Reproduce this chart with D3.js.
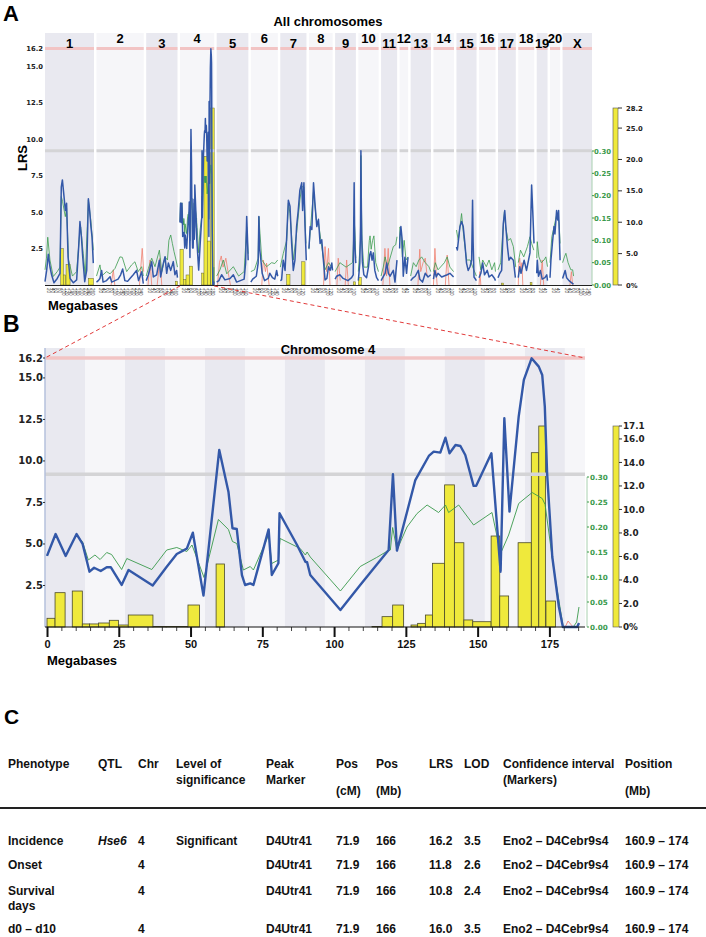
<!DOCTYPE html>
<html>
<head>
<meta charset="utf-8">
<script src="https://cdn.jsdelivr.net/npm/d3@7"></script>
<style>
body { margin: 0; background: #fff; }
svg { font-family: "Liberation Sans", Arial, sans-serif; }
.num { font-family: "DejaVu Sans", Verdana, sans-serif; font-weight: bold; }
</style>
</head>
<body>
<svg id="fig" width="706" height="937"></svg>
<script>
// ---- data ----
var chrNames = ["1","2","3","4","5","6","7","8","9","10","11","12","13","14","15","16","17","18","19","20","X"];
var chrLengths = [267.9,258.2,171.1,187.1,173.1,147.6,143.0,129.6,113.4,110.7,87.8,46.8,111.2,112.2,109.8,90.2,97.3,87.3,59.2,55.3,160.7];

// chromosome 4 scan (Mb, LRS)
var chr4LRS = [[0,4.28],[3.0,5.6],[6.5,4.28],[10.3,5.6],[12.4,5.0],[14.8,3.33],[16.4,3.57],[18.7,3.37],[20.8,3.6],[22.2,3.6],
  [26.0,2.53],[28.4,3.43],[36.8,2.5],[41.7,3.63],[45.2,4.4],[48.7,4.72],[50.8,5.68],[54.5,1.89],[60.0,10.66],[63.2,8.15],
  [64.6,5.95],[66.1,5.9],[67.9,3.13],[69.0,2.53],[70.8,2.63],[71.9,2.53],[77.2,5.88],[78.3,3.13],[80.6,3.84],[81.0,6.85],
  [87.1,4.94],[90.0,3.93],[90.6,3.9],[91.7,3.13],[102.2,1.02],[109.1,2.53],[119.0,4.64],[120.5,9.2],[121.9,4.6],[128.3,8.85],
  [133.0,10.3],[134.7,10.56],[137.0,10.5],[138.8,11.4],[140.2,10.46],[142.3,10.96],[144.0,10.9],[145.7,10.36],[148.6,8.5],[149.5,8.5],
  [154.8,10.46],[158.0,3.33],[159.3,12.57],[161.1,6.95],[164.3,12.67],[166.1,14.88],[168.8,16.18],[171.3,15.68],[172.5,15.18],[173.4,13.27],
  [174.2,9.26],[176.0,4.23],[178.3,1.22],[179.7,0],[184.7,0],[185.3,0.24]];
// chromosome 4 additive effect (Mb, value)
var chr4Add = [[0,0.142],[3.0,0.184],[6.5,0.144],[10.3,0.184],[12.4,0.17],[14.4,0.134],[16.7,0.144],[18.5,0.135],[20.8,0.149],[22.5,0.145],
  [26.0,0.115],[27.8,0.137],[36.5,0.115],[41.7,0.154],[45.2,0.159],[48.7,0.151],[50.5,0.164],[54.7,0.099],[59.7,0.215],[63.2,0.195],
  [64.6,0.171],[66.1,0.167],[68.4,0.114],[70.8,0.121],[71.9,0.114],[77.2,0.184],[78.3,0.127],[80.6,0.134],[81.2,0.177],[88.2,0.157],
  [90.0,0.144],[90.6,0.15],[91.7,0.14],[102.2,0.072],[109.1,0.121],[114.8,0.139],[118.3,0.151],[119.6,0.154],[120.4,0.199],[121.9,0.154],
  [125.4,0.2],[128.9,0.227],[132.4,0.244],[136.4,0.229],[138.8,0.244],[139.9,0.229],[143.4,0.244],[148.6,0.204],[155.0,0.229],[158.0,0.147],
  [160.8,0.184],[164.3,0.247],[169.0,0.269],[172.5,0.257],[173.5,0.245],[176.5,0.117],[179.8,0],[183.3,0],[184.5,0.01],[185.3,0.04]];
var chr4Neg = [[180.5,0],[181.5,0.012],[182.5,0.005],[183.3,0]];
// chromosome 4 bootstrap bins (start Mb, end Mb, %)
var chr4Boot = [[0,2.8,0.74],[2.8,6.3,2.92],[8.8,12.3,3.06],[12.3,14.8,0.26],[14.8,17.9,0.26],[17.9,21.7,0.34],[21.7,24.9,0.57],
  [24.9,28.3,0.17],[28.3,36.9,1.02],[36.9,41.5,0.05],[41.5,49.1,0.05],[49.1,53.1,1.87],[58.9,61.8,5.36],[113.2,116.7,0.05],
  [116.7,120.4,0.88],[120.4,124.2,1.87],[126.8,129.1,0.17],[129.1,131.8,0.31],[131.8,134.3,1.02],[134.3,138.5,5.42],
  [138.5,141.9,12.09],[141.9,145.2,7.17],[145.2,148.3,0.6],[148.3,154.7,0.45],[154.7,157.7,7.74],[157.7,160.8,2.64],
  [164.1,168.7,7.17],[168.7,171.3,14.83],[171.3,173.6,17.1],[173.8,177.1,2.21]];

// genome scan, one list per chromosome (Mb, LRS)
var lrsGenome = [
  [[0,0.23],[9,1.0],[18,2.1],[27,1.25],[36,0.7],[49,0.15],[67,0.45],[82,0.8],[89,6.7],[95,7.2],[104,6.05],[111,5.1],[118,5.6],[126,1.9],[137,0.45],[155,0.15],[173,0.35],[184,2.6],[191,4.35],[199,3.3],[206,1.95],[217,0.23],[228,1.0],[237,5.9],[244,5.1],[251,4.0],[257,3.3],[264,1.5]],
  [[0,0.2],[10,0.3],[19,0.45],[28,1.0],[36,0.2],[55,0.3],[74,0.57],[83,0.2],[101,0.3],[118,0.4],[132,0.7],[143,1.1],[155,0.3],[170,0.25],[183,0.45],[201,0.7],[219,1.0],[230,0.3],[247,0.9],[256,0.1]],
  [[0,0.3],[12,0.7],[30,1.6],[39,0.55],[57,0.7],[72,1.7],[79,0.55],[94,1.5],[103,1.94],[112,0.8],[121,1.5],[134,1.0],[148,1.6],[157,0.7],[166,1.0],[171,0.5]],
  null,
  [[0,0.2],[12,0.3],[27,0.7],[45,0.35],[73,0.45],[91,0.7],[109,0.2],[150,0.4],[158,1.5],[164,4.7],[168,3.3],[172,1.7]],
  [[0,0.2],[10,0.4],[30,0.6],[40,1.5],[44,4.7],[48,2.5],[55,1.7],[62,0.8],[75,0.3],[95,0.45],[104,0.8],[118,0.5],[131,0.4],[141,1.0],[147,0.6]],
  [[0,0.3],[7,0.35],[16,1.7],[26,1.0],[35,3.3],[44,5.8],[53,5.4],[62,2.85],[71,1.0],[80,1.7],[89,4.0],[98,5.1],[107,6.5],[117,7.0],[122,5.1],[129,7.0],[135,4.0],[142,1.7]],
  [[0,2.5],[7,4.0],[16,3.8],[25,7.0],[34,5.4],[43,4.0],[52,4.5],[61,2.85],[70,3.1],[79,1.7],[88,0.35],[98,0.45],[107,1.25],[116,1.0],[125,1.5],[129,1.0]],
  [[0,0.4],[8,0.6],[26,0.7],[44,0.45],[70,0.3],[90,0.5],[99,0.7],[104,7.0],[106,4.0],[108,2.6],[113,1.5]],
  [[0,0.3],[8,1.5],[12,4],[14,9.2],[16,6],[18,3.5],[22,1.6],[30,0.7],[45,0.5],[55,1.2],[62,2.05],[68,2.3],[75,1.7],[82,2.2],[90,1.0],[100,0.5],[110,0.3]],
  [[0,0.3],[12,0.57],[22,0.8],[31,1.5],[40,0.8],[49,0.6],[67,1.0],[76,0.2],[87,1.7]],
  [[0,2.5],[2,3.3],[7,4.0],[14,3.1],[20,0.6],[29,1.9],[38,0.8],[46,1.9]],
  [[0,0.3],[10,0.45],[25,0.6],[42,1.0],[50,0.4],[65,0.2],[80,0.8],[95,0.55],[110,0.7]],
  [[0,0.4],[8,1.0],[15,0.55],[25,0.8],[45,0.55],[75,0.7],[90,0.8],[110,0.55]],
  [[0,2.6],[5,2.4],[19,4.0],[28,4.35],[37,4.0],[46,2.85],[55,1.5],[64,1.0],[74,1.25],[83,1.7],[88,5.8],[91,3.0],[96,0.55],[109,0.3]],
  [[0,0.5],[10,0.8],[20,1.5],[30,0.7],[45,1.0],[55,0.55],[70,0.7],[85,0.45],[90,0.3]],
  [[0,0.5],[10,0.8],[20,1.0],[29,4.2],[37,5.1],[44,3.8],[52,2.6],[60,1.7],[69,1.9],[84,1.7],[95,0.5]],
  [[0,0.5],[8,1.25],[15,0.8],[32,1.7],[45,1.0],[64,2.2],[73,6.85],[79,5.1],[86,2.85]],
  [[0,0.8],[3,1.7],[10,0.6],[20,1.0],[30,0.4],[45,0.5],[55,0.7],[59,0.3]],
  [[0,0.5],[5,1.7],[13,2.85],[22,4.0],[27,3.5],[36,5.1],[42,4.45],[47,5.1],[55,1.7]],
  [[0,0.45],[14,1.0],[22,0.5],[35,0.3],[45,0.2],[55,0.1],[60,0.05]]
];
lrsGenome[3] = chr4LRS;

// additive effect, one list per chromosome (Mb, value)
var addGenome = [
  [[0,0.034],[8,0.06],[15,0.107],[27,0.056],[45,0.019],[67,0.03],[82,0.04],[89,0.198],[96,0.187],[111,0.153],[118,0.172],[129,0.056],[150,0.02],[173,0.03],[188,0.108],[195,0.13],[209,0.07],[220,0.02],[237,0.19],[250,0.146],[264,0.078]],
  [[0,0.02],[19,0.045],[28,0.02],[55,0.03],[74,0.025],[101,0.037],[128,0.063],[141,0.062],[165,0.03],[192,0.045],[210,0.052],[228,0.03],[247,0.041],[256,0.02]],
  [[0,0.02],[12,0.037],[30,0.06],[48,0.041],[72,0.078],[85,0.03],[103,0.063],[116,0.056],[124,0.1],[134,0.112],[143,0.093],[152,0.075],[163,0.056],[171,0.04]],
  null,
  [[0,0.02],[18,0.034],[36,0.056],[55,0.025],[91,0.041],[120,0.02],[150,0.03],[164,0.13],[172,0.07]],
  [[0,0.03],[20,0.034],[40,0.06],[44,0.153],[50,0.116],[60,0.056],[86,0.041],[114,0.05],[131,0.048],[147,0.056]],
  [[0,0.04],[16,0.07],[35,0.1],[44,0.183],[53,0.16],[71,0.056],[89,0.116],[107,0.19],[117,0.22],[129,0.22],[140,0.093]],
  [[0,0.08],[7,0.12],[25,0.21],[40,0.146],[52,0.14],[70,0.086],[88,0.034],[107,0.05],[125,0.04]],
  [[0,0.03],[26,0.05],[60,0.04],[95,0.05],[100,0.093],[104,0.153],[110,0.1],[113,0.06]],
  [[0,0.03],[12,0.1],[14,0.29],[16,0.2],[20,0.1],[30,0.04],[50,0.04],[60,0.1],[64,0.11],[70,0.08],[78,0.1],[85,0.11],[95,0.05],[110,0.03]],
  [[0,0.02],[12,0.04],[22,0.063],[35,0.04],[67,0.086],[80,0.09],[87,0.108]],
  [[0,0.1],[2,0.13],[7,0.12],[15,0.063],[25,0.1],[35,0.056],[46,0.063]],
  [[0,0.02],[15,0.05],[30,0.041],[45,0.056],[60,0.063],[80,0.05],[100,0.041],[110,0.03]],
  [[0,0.03],[10,0.05],[25,0.034],[60,0.05],[75,0.063],[90,0.04],[110,0.03]],
  [[0,0.123],[10,0.1],[28,0.16],[40,0.108],[55,0.056],[75,0.056],[88,0.041],[109,0.02]],
  [[0,0.063],[10,0.034],[20,0.056],[40,0.041],[55,0.056],[70,0.034],[85,0.05],[90,0.03]],
  [[0,0.034],[15,0.05],[27,0.123],[35,0.164],[42,0.13],[55,0.1],[69,0.104],[84,0.086],[97,0.04]],
  [[0,0.05],[12,0.078],[30,0.063],[50,0.086],[64,0.108],[73,0.093],[85,0.078]],
  [[0,0.06],[3,0.097],[12,0.063],[25,0.05],[40,0.056],[50,0.063],[59,0.041]],
  [[0,0.05],[10,0.108],[22,0.13],[36,0.157],[45,0.15],[50,0.14],[55,0.093]],
  [[0,0.05],[10,0.063],[18,0.071],[30,0.05],[45,0.034],[55,0.034],[60,0.02]]
];
addGenome[3] = chr4Add;

// additive effect in the other direction (red), segments per chromosome
var negGenome = [
  ["2",[[80,0],[92,0.034],[100,0]]], ["2",[[235,0],[250,0.082],[258,0.03]]],
  ["3",[[10,0],[21,0.056],[30,0]]], ["3",[[60,0],[75,0.06],[85,0]]],
  ["4",chr4Neg],
  ["5",[[5,0],[15,0.05],[25,0.065],[35,0.04],[50,0.06],[62,0.03],[75,0]]],
  ["6",[[60,0],[68,0.056],[80,0.03],[86,0.049],[100,0]]],
  ["8",[[80,0],[88,0.086],[97,0.03],[107,0.082],[115,0]]],
  ["9",[[10,0],[17,0.06],[28,0.01]]], ["9",[[55,0],[63,0.056],[72,0]]],
  ["11",[[10,0],[21,0.082],[30,0.02],[39,0.082],[48,0]]],
  ["13",[[40,0],[50,0.08],[55,0.03],[68,0.05],[80,0.06],[90,0.02]]],
  ["14",[[0,0],[8,0.082],[15,0.03],[20,0]]], ["14",[[65,0],[75,0.067],[85,0]]],
  ["16",[[0,0],[5,0.03],[10,0]]],
  ["18",[[0,0],[2,0.04],[8,0.06],[14,0.03],[20,0.05],[25,0]]],
  ["19",[[20,0],[30,0.056],[38,0]]],
  ["X",[[40,0],[48,0.03],[55,0]]]
];

// genome-wide bootstrap bins (chr, start Mb, end Mb, %)
var bootGenome = [
  ["1",86,100,5.8],["1",100,113,1.6],["1",115,137,3.3],["1",237,264,1.06],
  ["3",160,170,0.6],
  ["4",0,18,5.7],["4",18,33,0.9],["4",33,51,1.6],["4",51,69,3.0],["4",118,131,1.9],["4",131,149,20.5],["4",149,168,7.0],["4",168,187,28.2],
  ["7",35,53,1.7],["7",117,135,3.7],
  ["9",100,110,0.5],["10",0,16,1.2],["17",20,30,0.3],["18",65,75,0.4]
];

var lrsTicksA = [2.5,5.0,7.5,10.0,12.5,15.0,16.2];
var lrsTicksB = [2.5,5.0,7.5,10.0,12.5,15.0,16.2];
var addTicks = [0,0.05,0.10,0.15,0.20,0.25,0.30];
var bootTicksA = [0,5,10,15,20,25,28.2];
var bootTicksB = [0,2,4,6,8,10,12,14,16,17.1];
var mbTicksB = [0,25,50,75,100,125,150,175];
var significantLRS = 16.2, suggestiveLRS = 9.2;

var tableHead = [["Phenotype"],["QTL"],["Chr"],["Level of","significance"],["Peak","Marker"],["Pos","","(cM)"],["Pos","","(Mb)"],["LRS"],["LOD"],["Confidence interval","(Markers)"],["Position","","(Mb)"]];
var tableRows = [
  [["Incidence"],["Hse6"],["4"],["Significant"],["D4Utr41"],["71.9"],["166"],["16.2"],["3.5"],["Eno2 \u2013 D4Cebr9s4"],["160.9 \u2013 174"]],
  [["Onset"],[""],["4"],[""],["D4Utr41"],["71.9"],["166"],["11.8"],["2.6"],["Eno2 \u2013 D4Cebr9s4"],["160.9 \u2013 174"]],
  [["Survival","days"],[""],["4"],[""],["D4Utr41"],["71.9"],["166"],["10.8"],["2.4"],["Eno2 \u2013 D4Cebr9s4"],["160.9 \u2013 174"]],
  [["d0 \u2013 d10"],[""],["4"],[""],["D4Utr41"],["71.9"],["166"],["16.0"],["3.5"],["Eno2 \u2013 D4Cebr9s4"],["160.9 \u2013 174"]]
];

// ---- drawing ----
var svg = d3.select("#fig");
var BLUE = "#3358a8", GREEN = "#3a9a4c", RED = "#f08070", YELLOW = "#efe93c";
var BAND_DARK = "#e9e9f0", BAND_LIGHT = "#f6f6f9";

function panelLetter(t, x, y, size) {
  svg.append("text").attr("x", x).attr("y", y).attr("font-size", size).attr("font-weight", "bold").text(t);
}
panelLetter("A", 3, 21, 22);
panelLetter("B", 3, 332, 23);
panelLetter("C", 4, 724, 21);

// ===== panel A =====
var chrGap = 13.5;
var offsets = [], acc = 0;
chrLengths.forEach(function(len) { offsets.push(acc); acc += len + chrGap; });
var gx = d3.scaleLinear().domain([0, acc - chrGap]).range([45, 592]);
var yA = d3.scaleLinear().domain([0, 16.2]).range([285, 48.5]);
var addA = d3.scaleLinear().domain([0, 0.3]).range([285, 151]);
var bootA = d3.scaleLinear().domain([0, 28.2]).range([285, 108]);
function ci(name) { return chrNames.indexOf(name); }

var pA = svg.append("g");
chrNames.forEach(function(name, i) {
  var x0 = gx(offsets[i]), x1 = gx(offsets[i] + chrLengths[i]);
  pA.append("rect").attr("x", x0).attr("y", 33).attr("width", x1 - x0).attr("height", 252)
    .attr("fill", i % 2 ? BAND_LIGHT : BAND_DARK);
});

pA.selectAll(".bootA").data(bootGenome).enter().append("rect")
  .attr("x", function(d) { return gx(offsets[ci(d[0])] + d[1]); })
  .attr("width", function(d) { return gx(offsets[ci(d[0])] + d[2]) - gx(offsets[ci(d[0])] + d[1]); })
  .attr("y", function(d) { return bootA(d[3]); })
  .attr("height", function(d) { return bootA(0) - bootA(d[3]); })
  .attr("fill", YELLOW).attr("stroke", "#6a6a30").attr("stroke-width", 0.5);

chrNames.forEach(function(name, i) {
  var x0 = gx(offsets[i]), x1 = gx(offsets[i] + chrLengths[i]);
  pA.append("line").attr("x1", x0).attr("x2", x1).attr("y1", yA(significantLRS)).attr("y2", yA(significantLRS))
    .attr("stroke", "#f2c4c4").attr("stroke-width", 3);
  pA.append("line").attr("x1", x0).attr("x2", x1).attr("y1", yA(suggestiveLRS)).attr("y2", yA(suggestiveLRS))
    .attr("stroke", "#d4d4d6").attr("stroke-width", 3);
  pA.append("text").attr("x", (x0 + x1) / 2).attr("y", i % 2 ? 42.5 : 48)
    .attr("text-anchor", "middle").attr("font-size", 13).attr("font-weight", "bold").text(name);
});

negGenome.forEach(function(seg) {
  var i = ci(seg[0]);
  var ln = d3.line().x(function(d) { return gx(offsets[i] + d[0]); }).y(function(d) { return addA(d[1]); });
  pA.append("path").attr("d", ln(seg[1])).attr("fill", "none").attr("stroke", RED).attr("stroke-width", 0.8);
});
addGenome.forEach(function(pts, i) {
  var ln = d3.line().x(function(d) { return gx(offsets[i] + d[0]); }).y(function(d) { return addA(d[1]); });
  pA.append("path").attr("d", ln(pts)).attr("fill", "none").attr("stroke", GREEN).attr("stroke-width", 0.8);
});
lrsGenome.forEach(function(pts, i) {
  var ln = d3.line().x(function(d) { return gx(offsets[i] + d[0]); }).y(function(d) { return yA(d[1]); });
  pA.append("path").attr("d", ln(pts)).attr("fill", "none").attr("stroke", BLUE).attr("stroke-width", 1.5)
    .attr("stroke-linejoin", "round");
});

// axes A
pA.append("line").attr("x1", 45).attr("x2", 592).attr("y1", 285.5).attr("y2", 285.5).attr("stroke", "#222");
lrsTicksA.forEach(function(v) {
  pA.append("text").attr("class", "num").attr("x", 43).attr("y", yA(v) + 2.5).attr("text-anchor", "end")
    .attr("font-size", 6.8).attr("fill", "#222").text(d3.format(".1f")(v));
});
pA.append("text").attr("transform", "translate(27,158) rotate(-90)").attr("text-anchor", "middle")
  .attr("font-size", 13).attr("font-weight", "bold").text("LRS");
pA.append("text").attr("x", 328).attr("y", 26).attr("text-anchor", "middle")
  .attr("font-size", 13).attr("font-weight", "bold").text("All chromosomes");
// tiny megabase labels under each chromosome
chrNames.forEach(function(name, i) {
  for (var m = 20; m < chrLengths[i] - 5; m += 20) {
    pA.append("text").attr("transform", "translate(" + (gx(offsets[i] + m) - 1.5) + ",288) rotate(90)")
      .attr("font-size", 4.5).attr("fill", "#333").text(m);
  }
});
pA.append("text").attr("x", 48).attr("y", 310).attr("font-size", 13).attr("font-weight", "bold").text("Megabases");

// green axis A
pA.append("line").attr("x1", 592).attr("x2", 592).attr("y1", addA(0.3)).attr("y2", addA(0)).attr("stroke", "#a8d0b0");
addTicks.forEach(function(v) {
  pA.append("line").attr("x1", 592).attr("x2", 594).attr("y1", addA(v)).attr("y2", addA(v)).attr("stroke", GREEN);
  pA.append("text").attr("class", "num").attr("x", 594).attr("y", addA(v) + 2.5).attr("font-size", 6.9)
    .attr("fill", GREEN).text(d3.format(".2f")(v));
});
// bootstrap scale A
pA.append("rect").attr("x", 613).attr("y", bootA(28.2)).attr("width", 5).attr("height", bootA(0) - bootA(28.2))
  .attr("fill", YELLOW).attr("stroke", "#555").attr("stroke-width", 0.6);
bootTicksA.forEach(function(v) {
  pA.append("line").attr("x1", 618).attr("x2", 622).attr("y1", bootA(v)).attr("y2", bootA(v)).attr("stroke", "#333");
  pA.append("text").attr("class", "num").attr("x", 626).attr("y", bootA(v) + 2.5).attr("font-size", 6.8)
    .attr("fill", "#222").text(v === 0 ? "0%" : d3.format(".1f")(v));
});

// ===== panel B =====
var xB = d3.scaleLinear().domain([-0.7, 187.4]).range([45, 585]);
var yB = d3.scaleLinear().domain([0, 16.2]).range([627, 358]);
var addB = d3.scaleLinear().domain([0, 0.3]).range([627, 477]);
var bootB = d3.scaleLinear().domain([0, 17.1]).range([627, 426]);
var pB = svg.append("g");

var bandMb = 13.93;
for (var k = 0; -0.7 + k * bandMb < 187.4; k++) {
  var b0 = -0.7 + k * bandMb, b1 = Math.min(187.4, b0 + bandMb);
  pB.append("rect").attr("x", xB(b0)).attr("y", 348).attr("width", xB(b1) - xB(b0)).attr("height", 279)
    .attr("fill", k % 2 ? BAND_LIGHT : BAND_DARK);
}

pB.selectAll(".bootB").data(chr4Boot).enter().append("rect")
  .attr("x", function(d) { return xB(d[0]); })
  .attr("width", function(d) { return xB(d[1]) - xB(d[0]); })
  .attr("y", function(d) { return bootB(d[2]); })
  .attr("height", function(d) { return bootB(0) - bootB(d[2]); })
  .attr("fill", YELLOW).attr("stroke", "#4a4a2a").attr("stroke-width", 0.8);

pB.append("line").attr("x1", 45).attr("x2", 585).attr("y1", yB(significantLRS)).attr("y2", yB(significantLRS))
  .attr("stroke", "#f2c4c4").attr("stroke-width", 3.5);
pB.append("line").attr("x1", 45).attr("x2", 585).attr("y1", yB(suggestiveLRS)).attr("y2", yB(suggestiveLRS))
  .attr("stroke", "#d4d4d6").attr("stroke-width", 3.5);

pB.append("path").attr("d", d3.line().x(function(d) { return xB(d[0]); }).y(function(d) { return addB(d[1]); })(chr4Neg))
  .attr("fill", "none").attr("stroke", RED).attr("stroke-width", 0.9);
pB.append("path").attr("d", d3.line().x(function(d) { return xB(d[0]); }).y(function(d) { return addB(d[1]); })(chr4Add))
  .attr("fill", "none").attr("stroke", GREEN).attr("stroke-width", 0.9);
pB.append("path").attr("d", d3.line().x(function(d) { return xB(d[0]); }).y(function(d) { return yB(d[1]); })(chr4LRS))
  .attr("fill", "none").attr("stroke", BLUE).attr("stroke-width", 2.4).attr("stroke-linejoin", "round");

pB.append("line").attr("x1", 45).attr("x2", 45).attr("y1", 348).attr("y2", 627).attr("stroke", "#b4c0dc").attr("stroke-width", 1.5);
lrsTicksB.forEach(function(v) {
  pB.append("line").attr("x1", 43).attr("x2", 45).attr("y1", yB(v)).attr("y2", yB(v)).attr("stroke", "#333");
  pB.append("text").attr("class", "num").attr("x", 43).attr("y", yB(v) + 3.5).attr("text-anchor", "end")
    .attr("font-size", 10).attr("fill", "#222").text(d3.format(".1f")(v));
});
pB.append("text").attr("x", 328).attr("y", 354).attr("text-anchor", "middle")
  .attr("font-size", 13).attr("font-weight", "bold").text("Chromosome 4");

var minorB = d3.range(5, 187, 5).filter(function(v) { return v % 25 !== 0; });
pB.append("g").attr("transform", "translate(0,627)")
  .call(d3.axisBottom(xB).tickValues(minorB).tickSize(4).tickFormat(""))
  .call(function(g) { g.select(".domain").remove(); g.selectAll("line").attr("stroke", "#444"); });
pB.append("g").attr("transform", "translate(0,627)")
  .call(d3.axisBottom(xB).tickValues(mbTicksB).tickSize(10).tickPadding(3))
  .call(function(g) {
    g.select(".domain").remove();
    g.selectAll("line").attr("stroke", "#111").attr("stroke-width", 2);
    g.selectAll("text").attr("font-size", 11).attr("font-weight", "bold").attr("fill", "#111")
      .attr("font-family", "Liberation Sans, Arial, sans-serif");
  });
pB.append("line").attr("x1", 45).attr("x2", 585).attr("y1", 627).attr("y2", 627).attr("stroke", "#111");
pB.append("text").attr("x", 47).attr("y", 665).attr("font-size", 13).attr("font-weight", "bold").text("Megabases");

pB.append("line").attr("x1", 587).attr("x2", 587).attr("y1", addB(0.3)).attr("y2", addB(0)).attr("stroke", "#a8d0b0");
addTicks.forEach(function(v) {
  pB.append("line").attr("x1", 587).attr("x2", 589).attr("y1", addB(v)).attr("y2", addB(v)).attr("stroke", GREEN);
  pB.append("text").attr("class", "num").attr("x", 590).attr("y", addB(v) + 2.5).attr("font-size", 7.2)
    .attr("fill", GREEN).text(d3.format(".2f")(v));
});
pB.append("rect").attr("x", 613).attr("y", bootB(17.1)).attr("width", 6).attr("height", bootB(0) - bootB(17.1))
  .attr("fill", YELLOW).attr("stroke", "#555").attr("stroke-width", 0.6);
bootTicksB.forEach(function(v) {
  pB.append("line").attr("x1", 619).attr("x2", 622).attr("y1", bootB(v)).attr("y2", bootB(v)).attr("stroke", "#333");
  pB.append("text").attr("class", "num").attr("x", 623).attr("y", bootB(v) + 3.3).attr("font-size", 8.8)
    .attr("fill", "#222").text(v === 0 ? "0%" : d3.format(".1f")(v));
});

// dashed zoom lines from chromosome 4 in A to panel B
var c4 = ci("4");
svg.append("line").attr("x1", gx(offsets[c4])).attr("y1", 286).attr("x2", 45).attr("y2", yB(significantLRS))
  .attr("stroke", "#e23a3a").attr("stroke-dasharray", "4,3");
svg.append("line").attr("x1", gx(offsets[c4] + chrLengths[c4])).attr("y1", 286).attr("x2", 585).attr("y2", yB(significantLRS))
  .attr("stroke", "#e23a3a").attr("stroke-dasharray", "4,3");

// ===== panel C =====
var colX = [8, 98, 138, 176, 266, 336, 376, 429, 464, 503, 625];
var headY = [767.5, 783.5, 794.5];
var rowY = [845, 869, 895, 933];
var tC = svg.append("g").attr("font-size", 12).attr("font-weight", "bold").attr("fill", "#111");
tableHead.forEach(function(lines, c) {
  lines.forEach(function(s, l) {
    if (s) tC.append("text").attr("x", colX[c]).attr("y", headY[l]).text(s);
  });
});
tC.append("line").attr("x1", 0).attr("x2", 706).attr("y1", 808).attr("y2", 808).attr("stroke", "#222").attr("stroke-width", 2);
tableRows.forEach(function(row, r) {
  row.forEach(function(lines, c) {
    lines.forEach(function(s, l) {
      if (!s) return;
      var t = tC.append("text").attr("x", colX[c]).attr("y", rowY[r] + l * 15).text(s);
      if (c === 1) t.attr("font-style", "italic");
    });
  });
});
</script>
</body>
</html>
